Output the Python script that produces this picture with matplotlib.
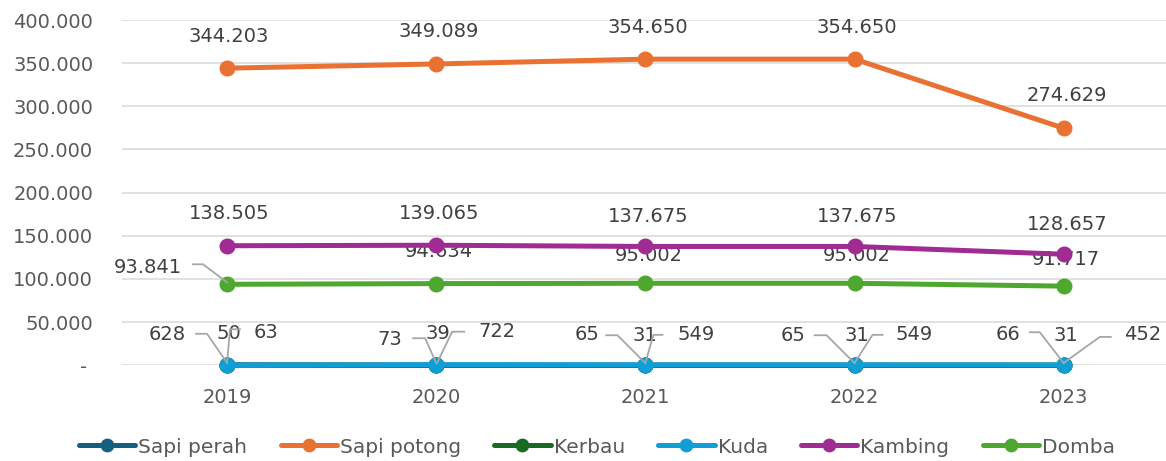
import matplotlib
matplotlib.use("Agg")
import matplotlib.pyplot as plt
from matplotlib.ticker import FixedLocator, FuncFormatter

years = ["2019", "2020", "2021", "2022", "2023"]
sapi_perah = [628, 73, 65, 65, 66]
sapi_potong = [344203, 349089, 354650, 354650, 274629]
kerbau = [50, 39, 31, 31, 31]
kuda = [63, 722, 549, 549, 452]
kambing = [138505, 139065, 137675, 137675, 128657]
domba = [93841, 94634, 95002, 95002, 91717]

series_names = ["Sapi perah", "Sapi potong", "Kerbau", "Kuda", "Kambing", "Domba"]
series_values = [sapi_perah, sapi_potong, kerbau, kuda, kambing, domba]
colors = ["#156082", "#E97132", "#196B24", "#0F9ED5", "#A02B93", "#4EA72E"]

# label offsets (pixels, dx right, dy down) relative to each point
label_offsets = {
    "Sapi perah": [(-60, -30), (-46, -26), (-58, -31), (-62, -30), (-56, -31)],
    "Sapi potong": [(2, -32), (2, -32), (2, -32), (2, -32), (3, -33)],
    "Kerbau": [(2, -32), (2, -32), (-1, -30), (2, -30), (2, -30)],
    "Kuda": [(39, -33), (61, -33), (51, -30), (60, -30), (79, -30)],
    "Kambing": [(2, -32), (3, -32), (3, -30), (3, -30), (3, -30)],
    "Domba": [(-79, -17), (3, -32), (3, -28), (2, -28), (2, -27)],
}
leaders = {
    "Sapi perah": [[(-31, -31), (-20, -31), (0, -2)], [(-23, -27), (-11, -27), (0, -2)],
                   [(-39, -30), (-28, -30), (0, -2)], [(-40, -30), (-28, -30), (0, -2)],
                   [(-34, -33), (-24, -33), (0, -2)]],
    "Kuda": [[(13, -36), (3, -36), (0, -2)], [(28, -33), (16, -33), (1, -2)],
             [(17, -30), (8, -30), (0, -2)], [(28, -30), (18, -30), (0, -2)],
             [(47, -28), (36, -28), (0, -2)]],
    "Domba": [None, None, None, None, None],
}
leaders["Domba"][0] = [(-34, -20), (-24, -20), (0, -2)]

W, H = 1166, 461
fig = plt.figure(figsize=(W / 100, H / 100), dpi=100)
left_px, top_px, bottom_px = 122.4, 20.0, 365.3
ax = fig.add_axes([left_px / W, 1 - bottom_px / H, (W - left_px) / W, (bottom_px - top_px) / H])

x = list(range(len(years)))
for name, vals, c in zip(series_names, series_values, colors):
    ax.plot(x, vals, color=c, lw=3.6, marker="o", ms=10.5, label=name,
            solid_capstyle="round", zorder=3, clip_on=False)

ax.set_xlim(-0.5, 4.5 - 2.4 / 209.25)
ax.set_ylim(0, 400000)
ax.yaxis.set_major_locator(FixedLocator(range(0, 400001, 50000)))

def yfmt(v, pos):
    if v == 0:
        return "- "
    return f"{int(v):,}".replace(",", ".")

ax.yaxis.set_major_formatter(FuncFormatter(yfmt))
ax.set_xticks(x)
ax.set_xticklabels(years)
ax.grid(axis="y", color="#D9D9D9", lw=1.1, zorder=0)
ax.set_axisbelow(True)
for s in ax.spines.values():
    s.set_visible(False)
ax.tick_params(axis="both", length=0, labelsize=14, labelcolor="#595959")
ax.tick_params(axis="y", pad=21)
ax.tick_params(axis="x", pad=16)

fig.canvas.draw()

def off(i, v, dx, dy):
    X, Y = ax.transData.transform((i, v))
    return tuple(ax.transData.inverted().transform((X + dx, Y - dy)))

for name, vals in zip(series_names, series_values):
    for i, v in enumerate(vals):
        dx, dy = label_offsets[name][i]
        tx, ty = off(i, v, dx, dy)
        ax.text(tx, ty, f"{v:,}".replace(",", "."), ha="center", va="center",
                fontsize=14, color="#404040", zorder=2.5, clip_on=False)
        if name in leaders and leaders[name][i] is not None:
            pts = [off(i, v, a, b) for a, b in leaders[name][i]]
            ax.plot([p[0] for p in pts], [p[1] for p in pts], color="#A6A6A6",
                    lw=1.3, zorder=4, clip_on=False)

fig.legend(loc="center", bbox_to_anchor=(597 / W, 1 - 447 / H), ncol=6, frameon=False,
           fontsize=14.5, labelcolor="#595959", handlelength=2.8, handletextpad=0.15,
           columnspacing=1.65, borderpad=0, markerscale=0.85)

fig.savefig("out.png", dpi=100)
